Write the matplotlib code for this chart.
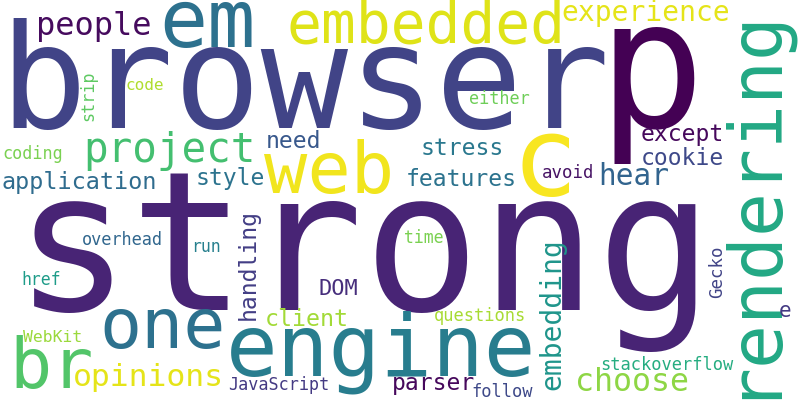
import numpy as np
import matplotlib
matplotlib.use("Agg")
import matplotlib.pyplot as plt

# word cloud terms, font size in pixels (em), viridis shade
words = ["strong", "browser", "p", "em", "embedded", "experience", "rendering",
         "c", "web", "project", "people", "need", "style", "application",
         "coding", "code", "strip", "stress", "features", "either", "avoid",
         "hear", "except", "cookie", "Gecko", "e", "br", "one", "engine",
         "opinions", "WebKit", "href", "overhead", "run", "handling", "DOM",
         "client", "JavaScript", "parser", "follow", "embedding", "questions",
         "time", "stackoverflow", "choose"]
sizes_px = [194, 145, 178, 80, 58, 28, 73,
            110, 72, 41, 32, 23, 23, 23.5,
            16.7, 16, 16.7, 23, 23, 16.7, 17.4,
            29.5, 23, 23, 17.5, 21, 70, 70, 86,
            31.4, 16.4, 16.5, 16.9, 16.5, 23, 22,
            23.3, 16.7, 23, 17, 28, 17,
            16.5, 17, 31.6]
shades = [0.10, 0.20, 0.00, 0.37, 0.95, 0.96, 0.60,
          0.99, 0.98, 0.70, 0.03, 0.27, 0.38, 0.35,
          0.80, 0.88, 0.75, 0.40, 0.38, 0.78, 0.05,
          0.32, 0.02, 0.22, 0.20, 0.17, 0.73, 0.37, 0.42,
          0.96, 0.85, 0.55, 0.33, 0.43, 0.18, 0.13,
          0.86, 0.17, 0.02, 0.22, 0.52, 0.87,
          0.80, 0.62, 0.83]

# layout: centre of word along its direction, baseline position, rotation
xs = [364, 305, 651, 207, 426, 646, 770,
      545, 329, 169, 94, 293, 230, 79,
      33, 145, 93, 462, 461, 499, 568,
      634, 682, 682, 722, 785, 52, 163, 381,
      148, 53, 41, 122, 206, 255, 338,
      307, 279, 433, 502, 560, 480,
      424, 667, 632]
ys = [310, 128, 127, 47, 43, 21, 201,
      195, 193, 162, 35, 148, 185, 189,
      159, 90, 96, 155, 186, 104, 178,
      185, 141, 165, 272, 317, 388, 348, 376,
      386, 342, 285, 245, 252, 264, 295,
      326, 390, 390, 397, 314, 321,
      243, 370, 391]
rotations = [0, 0, 0, 0, 0, 0, 90,
             0, 0, 0, 0, 0, 0, 0,
             0, 0, 90, 0, 0, 0, 0,
             0, 0, 0, 90, 0, 0, 0, 0,
             0, 0, 0, 0, 0, 90, 0,
             0, 0, 0, 0, 90, 0,
             0, 0, 0]

fig = plt.figure(figsize=(8, 4), dpi=100)
ax = fig.add_axes([0, 0, 1, 1])
ax.set_xlim(0, 800)
ax.set_ylim(400, 0)
ax.axis("off")

cmap = plt.get_cmap("viridis")
for w, s, c, x, y, r in zip(words, sizes_px, shades, xs, ys, rotations):
    ax.text(x, y, w, fontsize=s * 72 / 100, family="DejaVu Sans Mono",
            color=cmap(c), rotation=r, rotation_mode="anchor",
            ha="center", va="baseline")

fig.savefig("out.png", dpi=100, facecolor="white")
